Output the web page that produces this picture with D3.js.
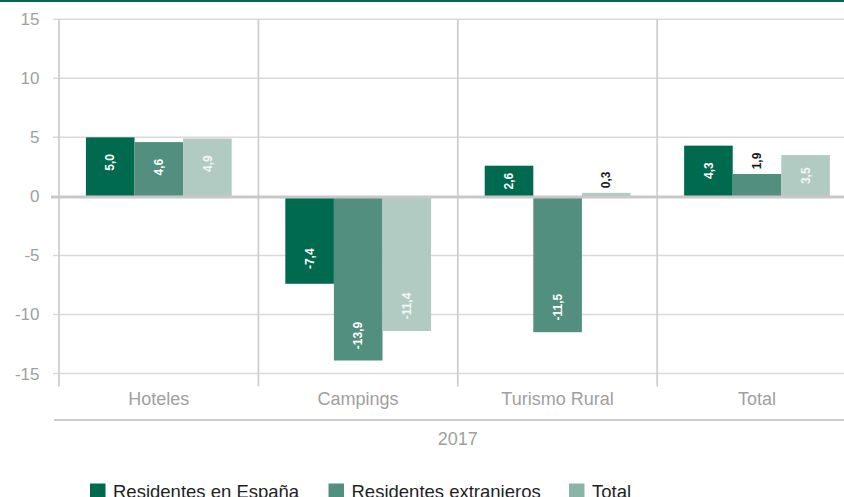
<!DOCTYPE html>
<html>
<head>
<meta charset="utf-8">
<script src="https://cdn.jsdelivr.net/npm/d3@7"></script>
<style>
    body { margin: 0; background: #fff; }
    svg { display: block; font-family: "Liberation Sans", Arial, sans-serif; }
</style>
</head>
<body>
<div id="chart"></div>
<script>
const categories = ["Hoteles", "Campings", "Turismo Rural", "Total"];
const seriesNames = ["Residentes en España", "Residentes extranjeros", "Total"];
const residentesEspana = [5.0, -7.4, 2.6, 4.3];
const residentesExtranjeros = [4.6, -13.9, -11.5, 1.9];
const totalValues = [4.9, -11.4, 0.3, 3.5];
const yTicks = [-15, -10, -5, 0, 5, 10, 15];
const yearLabel = "2017";

const barColors = ["#006a4f", "#538f7e", "#b2cbc2"];
const legendColors = ["#006a4f", "#538f7e", "#8ab5a6"];

const width = 844;
const height = 497;
const plot = { left: 59, right: 856.6, top: 19.3, bottom: 373.5 };

const svg = d3.select("#chart")
    .append("svg")
    .attr("width", width)
    .attr("height", height);

// top green rule
svg.append("rect")
    .attr("x", 0)
    .attr("y", 0)
    .attr("width", width)
    .attr("height", 2)
    .attr("fill", "#006a4f");

const xScale = d3.scaleBand()
    .domain(categories)
    .range([plot.left, plot.right]);

const bw = xScale.bandwidth();
const xInner = d3.scaleBand()
    .domain(seriesNames)
    .range([bw * 0.135, bw * 0.866]);

const yScale = d3.scaleLinear()
    .domain([-15, 15])
    .range([plot.bottom, plot.top]);

// horizontal gridlines
svg.append("g")
    .selectAll("line")
    .data(yTicks.filter((d) => d !== 0))
    .enter()
    .append("line")
    .attr("x1", plot.left - 6)
    .attr("x2", width)
    .attr("y1", (d) => yScale(d))
    .attr("y2", (d) => yScale(d))
    .attr("stroke", "#d9d9d9")
    .attr("stroke-width", 1.5);

// y tick labels
svg.append("g")
    .selectAll("text")
    .data(yTicks)
    .enter()
    .append("text")
    .attr("x", 39.5)
    .attr("y", (d) => yScale(d) + 6)
    .attr("text-anchor", "end")
    .style("font-size", "17px")
    .style("fill", "#a0a0a0")
    .text((d) => String(d));

// vertical category dividers
const dividers = categories.map((c) => xScale(c)).concat([plot.right]);
svg.append("g")
    .selectAll("line")
    .data(dividers)
    .enter()
    .append("line")
    .attr("x1", (d) => d)
    .attr("x2", (d) => d)
    .attr("y1", plot.top)
    .attr("y2", plot.bottom + 13)
    .attr("stroke", "#cfcfcf")
    .attr("stroke-width", 1.8);

// bars
const rows = [];
categories.forEach((c, i) => {
    [residentesEspana, residentesExtranjeros, totalValues].forEach((vals, j) => {
        rows.push({ category: c, series: seriesNames[j], index: j, value: vals[i] });
    });
});

const barG = svg.append("g");
barG.selectAll("rect")
    .data(rows)
    .enter()
    .append("rect")
    .attr("x", (d) => xScale(d.category) + xInner(d.series))
    .attr("width", xInner.bandwidth())
    .attr("y", (d) => yScale(Math.max(0, d.value)))
    .attr("height", (d) => Math.abs(yScale(d.value) - yScale(0)))
    .attr("fill", (d) => barColors[d.index]);

// zero line
svg.append("line")
    .attr("x1", plot.left - 8)
    .attr("x2", width)
    .attr("y1", yScale(0) + 0.5)
    .attr("y2", yScale(0) + 0.5)
    .attr("stroke", "#c8c8c8")
    .attr("stroke-width", 3);

// value labels (comma decimals, plain hyphen minus)
const fmt = (v) => v.toFixed(1).replace(".", ",");
barG.selectAll("text")
    .data(rows)
    .enter()
    .append("text")
    .each(function (d) {
        const cx = xScale(d.category) + xInner(d.series) + xInner.bandwidth() / 2;
        const end = yScale(d.value);
        const len = Math.abs(end - yScale(0));
        let cy;
        let inside = true;
        if (len < 28) {
            inside = false;
            cy = end - 13;
        } else {
            const off = Math.min(len / 2, 25);
            cy = d.value >= 0 ? end + off : end - off;
        }
        d3.select(this)
            .attr("transform", `translate(${cx},${cy}) rotate(-90)`)
            .attr("text-anchor", "middle")
            .attr("dy", "0.35em")
            .style("font-size", "12px")
            .style("font-weight", "bold")
            .style("fill", inside ? (d.index === 2 ? "#f4f7f6" : "#ffffff") : "#1a1a1a")
            .text(fmt(d.value));
    });

// category labels
svg.append("g")
    .selectAll("text")
    .data(categories)
    .enter()
    .append("text")
    .attr("x", (d) => xScale(d) + bw / 2)
    .attr("y", 405)
    .attr("text-anchor", "middle")
    .style("font-size", "18px")
    .style("fill", "#a0a0a0")
    .text((d) => d);

// group line and year
svg.append("line")
    .attr("x1", plot.left - 5)
    .attr("x2", width)
    .attr("y1", 420)
    .attr("y2", 420)
    .attr("stroke", "#cccccc")
    .attr("stroke-width", 2);

svg.append("text")
    .attr("x", (plot.left + plot.right) / 2)
    .attr("y", 445)
    .attr("text-anchor", "middle")
    .style("font-size", "18px")
    .style("fill", "#a0a0a0")
    .text(yearLabel);

// legend
const legendX = [90, 328.5, 569];
const legend = svg.append("g");
seriesNames.forEach((name, i) => {
    legend.append("rect")
        .attr("x", legendX[i])
        .attr("y", 483.5)
        .attr("width", 15.5)
        .attr("height", 15.5)
        .attr("fill", legendColors[i]);

    legend.append("text")
        .attr("x", legendX[i] + 23)
        .attr("y", 497.5)
        .style("font-size", "18.5px")
        .style("fill", "#1f1f1f")
        .text(name);
});
</script>
</body>
</html>
